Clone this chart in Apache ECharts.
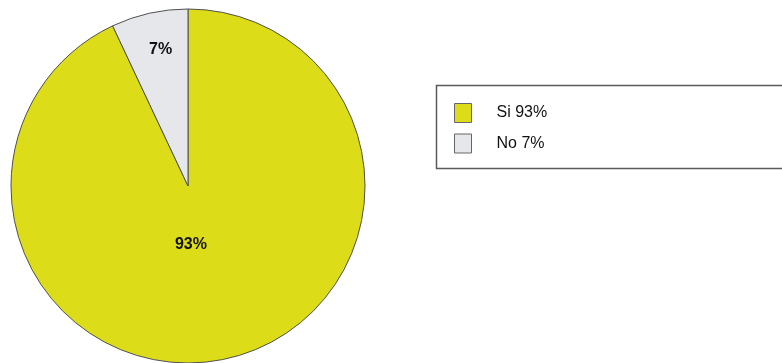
<!DOCTYPE html>
<html>
<head>
<meta charset="utf-8">
<style>
  html, body { margin: 0; padding: 0; background: #ffffff; }
  #chart { width: 782px; height: 363px; }
</style>
<script src="https://cdn.jsdelivr.net/npm/echarts@6/dist/echarts.min.js"></script>
</head>
<body>
<div id="chart"></div>
<script>
// Answers and their shares (percent)
const categories = ['Si', 'No'];
const values = [93, 7];
const colors = ['#dcdc18', '#e6e7ea'];

// Nudges that move each inside label from its default spot
const labelShift = [[-17, -30.5], [-7.5, -47.5]];

const chart = echarts.init(document.getElementById('chart'), null, { renderer: 'canvas' });

chart.setOption({
  animation: false,
  backgroundColor: '#ffffff',
  graphic: [{
    type: 'rect',
    shape: { x: 436.5, y: 85.5, width: 420, height: 83 },
    style: { fill: '#ffffff', stroke: '#5a5a5a', lineWidth: 1.5 },
    z: 0
  }],
  legend: {
    orient: 'vertical',
    left: 454,
    top: 103,
    padding: 0,
    itemWidth: 17,
    itemHeight: 19,
    itemGap: 10.5,
    icon: 'rect',
    selectedMode: false,
    data: categories,
    formatter: function (name) {
      return name + ' ' + values[categories.indexOf(name)] + '%';
    },
    textStyle: {
      fontFamily: 'Liberation Sans, Arial, sans-serif',
      fontSize: 16,
      color: '#111111',
      padding: [0, 0, 0, 20]
    },
    itemStyle: { borderColor: '#666666', borderWidth: 1 },
    z: 5
  },
  series: [{
    type: 'pie',
    center: [188, 186],
    radius: 177,
    startAngle: 90,
    clockwise: true,
    avoidLabelOverlap: false,
    silent: true,
    itemStyle: { borderColor: '#505050', borderWidth: 1 },
    label: {
      show: true,
      position: 'inside',
      formatter: '{c}%',
      fontFamily: 'Liberation Sans, Arial, sans-serif',
      fontSize: 16,
      fontWeight: 'bold',
      color: '#111111'
    },
    labelLine: { show: false },
    labelLayout: function (params) {
      const s = labelShift[params.dataIndex];
      return { dx: s[0], dy: s[1] };
    },
    data: categories.map(function (c, i) {
      return { name: c, value: values[i], itemStyle: { color: colors[i] } };
    })
  }]
});
</script>
</body>
</html>
